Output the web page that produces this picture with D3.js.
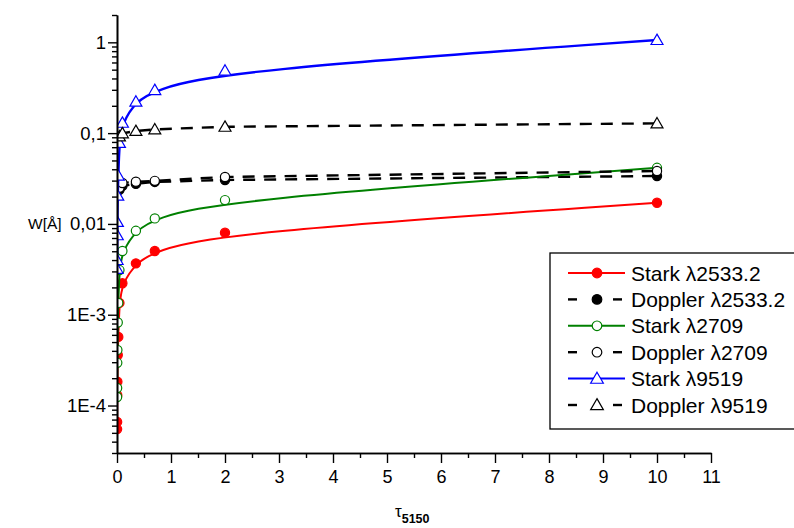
<!DOCTYPE html>
<html><head><meta charset="utf-8">
<script src="https://cdn.jsdelivr.net/npm/d3@7"></script>
<style>body{margin:0;background:#fff}svg{display:block}</style>
</head><body>
<svg id="c" width="794" height="528"></svg>
<script>
// ---- data ----
const tauStark = [0.002, 0.0025, 0.005, 0.007, 0.014, 0.024, 0.045, 0.1, 0.35, 0.7, 2, 10];
const starkRed   = [5.5e-5, 6.6e-5, 1.3e-4, 1.83e-4, 3.6e-4, 5.7e-4, 1.35e-3, 0.00222, 0.00368, 0.00503, 0.0080, 0.0171];
const starkGreen = [1.24e-4, 1.56e-4, 2.95e-4, 4.1e-4, 8.2e-4, 1.35e-3, 3.1e-3, 0.00503, 0.0084, 0.0115, 0.0183, 0.0415];
const starkBlue  = [0.0032, 0.0040, 0.0075, 0.0105, 0.0205, 0.034, 0.078, 0.130, 0.222, 0.298, 0.487, 1.06];
const tauDoppler = [0.045, 0.1, 0.35, 0.7, 2, 10];
const dopplerRed   = [0.0237, 0.0262, 0.0276, 0.0290, 0.0305, 0.0337];
const dopplerGreen = [0.0250, 0.0282, 0.0292, 0.0298, 0.0329, 0.0383];
const dopplerBlue  = [0.092, 0.0995, 0.1055, 0.110, 0.1175, 0.128];
const seriesNames = ["Stark \u03bb2533.2", "Doppler \u03bb2533.2", "Stark \u03bb2709", "Doppler \u03bb2709", "Stark \u03bb9519", "Doppler \u03bb9519"];
const xTickValues = [0,1,2,3,4,5,6,7,8,9,10,11];
const xMinorValues = [0.5,1.5,2.5,3.5,4.5,5.5,6.5,7.5,8.5,9.5,10.5];
const yTickValues = [1e-4, 1e-3, 1e-2, 1e-1, 1];
const yTickLabels = ["1E-4", "1E-3", "0,01", "0,1", "1"];

// ---- chart ----
const svg = d3.select("#c");
const x = d3.scaleLinear().domain([0, 11]).range([117, 711]);
const y = d3.scaleLog().domain([3e-5, 2]).range([453, 15]);

const series = [
  {name: seriesNames[0], tau: tauStark, w: starkRed, color: "#ff0000", dash: null, marker: "circle", fill: "#ff0000", stroke: "#ff0000", width: 2},
  {name: seriesNames[1], tau: tauDoppler, w: dopplerRed, color: "#000", dash: "12,9", marker: "circle", fill: "#000", stroke: "#000", width: 2.4},
  {name: seriesNames[2], tau: tauStark, w: starkGreen, color: "#008000", dash: null, marker: "circle", fill: "#fff", stroke: "#008000", width: 2},
  {name: seriesNames[3], tau: tauDoppler, w: dopplerGreen, color: "#000", dash: "12,9", marker: "circle", fill: "#fff", stroke: "#000", width: 2.4},
  {name: seriesNames[4], tau: tauStark, w: starkBlue, color: "#0000ff", dash: null, marker: "triangle", fill: "#fff", stroke: "#0000ff", width: 2.4},
  {name: seriesNames[5], tau: tauDoppler, w: dopplerBlue, color: "#000", dash: "12,9", marker: "triangle", fill: "#fff", stroke: "#000", width: 2.4}
];

svg.append("defs").append("clipPath").attr("id", "clip")
  .append("rect").attr("x", 117).attr("y", 0).attr("width", 640).attr("height", 453);

const plot = svg.append("g").attr("clip-path", "url(#clip)");
const triPath = d3.symbol().type(d3.symbolTriangle).size(62)();

series.forEach(s => {
  const pts = s.tau.map((t, i) => [t, s.w[i]]);
  const line = d3.line().x(d => x(d[0])).y(d => y(d[1]))
    .curve(s.dash ? d3.curveLinear : d3.curveBasis);
  plot.append("path").datum(pts).attr("d", line)
    .attr("fill", "none").attr("stroke", s.color).attr("stroke-width", s.width)
    .attr("stroke-dasharray", s.dash);
  const g = plot.append("g");
  if (s.marker === "circle") {
    g.selectAll("circle").data(pts).join("circle")
      .attr("cx", d => x(d[0])).attr("cy", d => y(d[1])).attr("r", 4.6)
      .attr("fill", s.fill).attr("stroke", s.stroke).attr("stroke-width", 1.2);
  } else {
    g.selectAll("path").data(pts).join("path")
      .attr("d", triPath)
      .attr("transform", d => `translate(${x(d[0])},${y(d[1]) + 1})`)
      .attr("fill", s.fill).attr("stroke", s.stroke).attr("stroke-width", 1.2);
  }
});

// axes
const yMinor = [];
for (let e = -5; e <= 0; e++) for (let k = 2; k <= 9; k++) {
  const v = k * Math.pow(10, e);
  if (v >= 3e-5 && v <= 2.0001) yMinor.push(v);
}
const yAxisMinor = d3.axisLeft(y).tickValues(yMinor).tickSize(5).tickSizeOuter(0).tickFormat("");
const yAxis = d3.axisLeft(y).tickValues(yTickValues).tickSize(9).tickSizeOuter(0).tickPadding(2)
  .tickFormat((d, i) => yTickLabels[i]);
const xAxisMinor = d3.axisBottom(x).tickValues(xMinorValues).tickSize(5).tickSizeOuter(0).tickFormat("");
const xAxis = d3.axisBottom(x).tickValues(xTickValues).tickSize(10).tickSizeOuter(0).tickPadding(7)
  .tickFormat(d3.format("d"));

function style(g) {
  g.selectAll("path.domain").attr("stroke", "#000").attr("stroke-width", 1.6);
  g.selectAll(".tick line").attr("stroke", "#000").attr("stroke-width", 1.4);
  g.selectAll("text").attr("fill", "#000");
}
svg.append("g").attr("transform", "translate(117,0)").call(yAxisMinor).call(style);
const ya = svg.append("g").attr("transform", "translate(117,0)").call(yAxis).call(style);
ya.selectAll("text").style("font-family", "'Liberation Sans', Arial, sans-serif").style("font-size", "18.5px");
svg.append("g").attr("transform", "translate(0,453)").call(xAxisMinor).call(style);
const xa = svg.append("g").attr("transform", "translate(0,453)").call(xAxis).call(style);
xa.selectAll("text").style("font-family", "'Liberation Sans Narrow', 'Arial Narrow', 'Liberation Sans', sans-serif").style("font-size", "18px");

// axis titles
svg.append("text").attr("x", 28).attr("y", 229)
  .style("font-family", "'Liberation Sans', Arial, sans-serif").style("font-size", "15.5px")
  .text("W[\u00c5]");
const xt = svg.append("text").attr("x", 395).attr("y", 517)
  .style("font-family", "'Liberation Sans', Arial, sans-serif");
xt.append("tspan").style("font-size", "17px").text("\u03c4");
xt.append("tspan").attr("dy", 6).style("font-size", "12.5px").style("font-weight", "bold").text("5150");

// legend
const lg = svg.append("g");
lg.append("rect").attr("x", 550).attr("y", 253).attr("width", 260).attr("height", 176)
  .attr("fill", "#fff").attr("stroke", "#000").attr("stroke-width", 1.3);
series.forEach((s, i) => {
  const cy = 273 + i * 26.4;
  if (s.dash) {
    lg.append("line").attr("x1", 568).attr("x2", 577).attr("y1", cy).attr("y2", cy)
      .attr("stroke", "#000").attr("stroke-width", 2.4);
    lg.append("line").attr("x1", 613).attr("x2", 622).attr("y1", cy).attr("y2", cy)
      .attr("stroke", "#000").attr("stroke-width", 2.4);
  } else {
    lg.append("line").attr("x1", 568).attr("x2", 625).attr("y1", cy).attr("y2", cy)
      .attr("stroke", s.color).attr("stroke-width", 2);
  }
  if (s.marker === "circle") {
    lg.append("circle").attr("cx", 597).attr("cy", cy).attr("r", 4.8)
      .attr("fill", s.fill).attr("stroke", s.stroke).attr("stroke-width", 1.2);
  } else {
    lg.append("path").attr("d", d3.symbol().type(d3.symbolTriangle).size(70)())
      .attr("transform", `translate(597,${cy + 1})`)
      .attr("fill", s.fill).attr("stroke", s.stroke).attr("stroke-width", 1.2);
  }
  lg.append("text").attr("x", 631).attr("y", cy + 7.5)
    .style("font-family", "'Liberation Sans', Arial, sans-serif").style("font-size", "21px")
    .text(s.name);
});
</script>
</body></html>
